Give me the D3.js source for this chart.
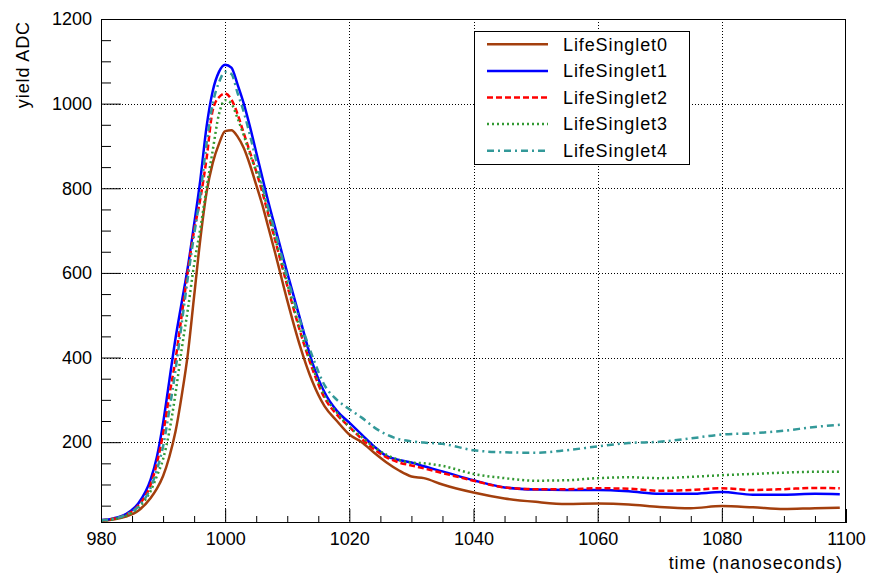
<!DOCTYPE html>
<html><head><meta charset="utf-8">
<script src="https://cdn.jsdelivr.net/npm/d3@7"></script>
<style>
html,body{margin:0;padding:0;background:#fff;}
svg{display:block;font-family:"Liberation Sans",Arial,Helvetica,sans-serif;}
</style></head>
<body><svg id="chart" width="871" height="576"></svg>
<script>
// ---- data ----
const time = [980,982,984,986,988,989,990,991,992,993,994,995,996,997,998,999,1000,1001,1002,1003,1004,1005,1006,1007,1008,1010,1012,1014,1016,1018,1020,1022,1024,1026,1028,1030,1032,1035,1040,1045,1050,1055,1060,1065,1070,1075,1080,1085,1090,1095,1099];
const seriesNames = ["LifeSinglet0","LifeSinglet1","LifeSinglet2","LifeSinglet3","LifeSinglet4"];
const life0 = [14,17,24,38,68,90,120,165,225,310,410,545,680,790,860,905,935,937,922,895,855,808,760,705,650,535,430,345,285,250,218,200,175,152,133,119,115,100,81,67,59,54,55,53,47,44,49,46,42,44,45];
const life1 = [16,20,30,55,112,165,245,345,445,530,615,715,820,945,1030,1075,1092,1085,1045,1000,945,885,825,765,710,600,495,390,318,274,246,218,190,167,158,152,143,131,110,93,88,87,87,84,78,78,82,76,76,78,77];
const life2 = [15,19,28,50,100,150,220,310,395,500,605,700,775,870,985,1015,1024,1010,975,930,885,840,790,735,680,570,465,375,305,265,236,208,183,164,152,145,138,127,109,93,89,89,91,90,85,87,91,87,89,92,91];
const life3 = [14,18,26,45,85,120,160,225,315,420,515,620,705,800,890,975,1008,1000,965,925,880,840,800,740,685,575,470,380,310,270,236,212,188,170,158,152,150,144,125,115,109,110,115,117,115,118,122,125,128,130,130];
const life4 = [15,19,28,48,92,135,190,275,370,480,590,690,785,905,1000,1050,1075,1070,1025,980,925,865,805,750,700,590,490,405,335,300,278,258,235,218,207,202,199,196,181,176,175,181,190,198,201,209,218,221,227,236,241];
const xMajorTicks = [980,1000,1020,1040,1060,1080,1100];
const yMajorTicks = [200,400,600,800,1000,1200];
const xTitle = "time (nanoseconds)";
const yTitle = "yield ADC";

// ---- styles ----
const styles = [
  {color:"#a33f0d", dash:null},
  {color:"#0000ff", dash:null},
  {color:"#ff0000", dash:"6,3"},
  {color:"#339933", dash:"2,3"},
  {color:"#339999", dash:"7,4,2,4"}
];
const allSeries = [life0,life1,life2,life3,life4];

const svg = d3.select("#chart");
const L=101, R=846, T=19, B=523;
const x = d3.scaleLinear().domain([980,1100]).range([L,R]);
const y = d3.scaleLinear().domain([9,1200]).range([B,T]);

const xMinor = d3.range(980,1100.1,5).filter(v=>!xMajorTicks.includes(v));
const yMinor = d3.range(50,1200,50).filter(v=>!yMajorTicks.includes(v));

// grid
const grid = svg.append("g").attr("stroke","#000").attr("stroke-width",1).attr("stroke-dasharray","1,2");
grid.selectAll("line.gx").data(xMajorTicks.filter(v=>v>980&&v<1100)).join("line")
  .attr("x1",d=>Math.round(x(d))+0.5).attr("x2",d=>Math.round(x(d))+0.5).attr("y1",T).attr("y2",B);
grid.selectAll("line.gy").data(yMajorTicks.filter(v=>v<1200)).join("line")
  .attr("y1",d=>Math.round(y(d))+0.5).attr("y2",d=>Math.round(y(d))+0.5).attr("x1",L).attr("x2",R);

// axes
const fs = 18;
const gx = svg.append("g").attr("transform",`translate(0,${B})`)
  .call(d3.axisBottom(x).tickValues(xMajorTicks).tickSize(-14).tickPadding(9).tickFormat(d3.format("d")));
const gxm = svg.append("g").attr("transform",`translate(0,${B})`)
  .call(d3.axisBottom(x).tickValues(xMinor).tickSize(-7).tickFormat(""));
const gy = svg.append("g").attr("transform",`translate(${L},0)`)
  .call(d3.axisLeft(y).tickValues(yMajorTicks).tickSize(-20).tickPadding(9).tickFormat(d3.format("d")));
const gym = svg.append("g").attr("transform",`translate(${L},0)`)
  .call(d3.axisLeft(y).tickValues(yMinor).tickSize(-10).tickFormat(""));
[gx,gxm,gy,gym].forEach(g=>{
  g.select(".domain").remove();
  g.selectAll("line").attr("stroke","#000").attr("stroke-width",1);
  g.selectAll("text").attr("font-size",fs).attr("fill","#000").attr("font-family","Liberation Sans, Arial, sans-serif");
});

// curves
const clip = svg.append("clipPath").attr("id","clip").append("rect").attr("x",L).attr("y",T).attr("width",R-L).attr("height",B-T);
const line = d3.line().x((d,i)=>x(time[i])).y(d=>y(d)).curve(d3.curveMonotoneX);
const lines = svg.append("g").attr("clip-path","url(#clip)");
allSeries.forEach((s,i)=>{
  lines.append("path").datum(s).attr("d",line).attr("fill","none")
    .attr("stroke",styles[i].color).attr("stroke-width",2.5)
    .attr("stroke-dasharray",styles[i].dash).attr("stroke-linejoin","round");
});

// frame
svg.append("rect").attr("x",L+0.5).attr("y",T+0.5).attr("width",R-L-1).attr("height",B-T-1)
  .attr("fill","none").attr("stroke","#000").attr("stroke-width",1);

// titles
svg.append("text").attr("x",843).attr("y",569).attr("text-anchor","end")
  .attr("font-size",fs).attr("letter-spacing","0.9px").text(xTitle);
svg.append("text").attr("transform","translate(29,21) rotate(-90)").attr("text-anchor","end")
  .attr("font-size",fs).attr("letter-spacing","0.9px").text(yTitle);

// legend
const lg = svg.append("g");
const lx0=474, ly0=31, lx1=689, ly1=164;
lg.append("rect").attr("x",lx0+0.5).attr("y",ly0+0.5).attr("width",lx1-lx0).attr("height",ly1-ly0)
  .attr("fill","#fff").attr("stroke","#000").attr("stroke-width",1);
const rowH=(ly1-ly0)/seriesNames.length;
seriesNames.forEach((n,i)=>{
  const cy = ly0 + rowH*(i+0.5);
  lg.append("line").attr("x1",487).attr("x2",548).attr("y1",cy).attr("y2",cy)
    .attr("stroke",styles[i].color).attr("stroke-width",2.5).attr("stroke-dasharray",styles[i].dash);
  lg.append("text").attr("x",563).attr("y",cy).attr("dy","0.35em").attr("font-size",fs)
    .attr("letter-spacing","0.9px").text(n);
});
</script></body></html>
